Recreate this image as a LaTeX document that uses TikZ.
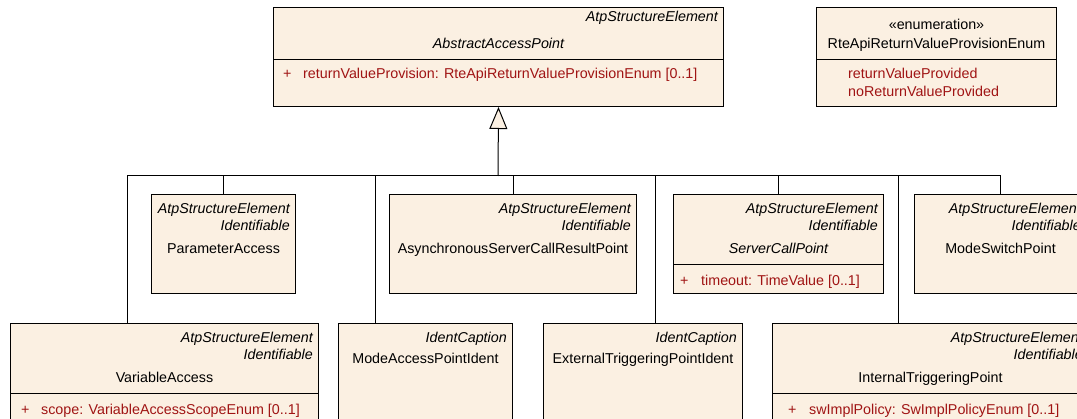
\documentclass[tikz,border=0pt]{standalone}
\usepackage{fontspec}
\setmainfont{Liberation Sans}
\usetikzlibrary{arrows.meta}
\definecolor{umlfill}{RGB}{251,240,226}
\definecolor{umlred}{RGB}{160,20,20}

\begin{document}
\begin{tikzpicture}[x=1pt,y=-1pt,
  every node/.style={font=\fontsize{14.3}{17}\selectfont},
  umlbox/.style={draw,fill=umlfill,line width=1pt,anchor=north west,inner sep=0pt},
  stereo/.style={anchor=east,inner sep=0pt,text height=10.2pt,text depth=0pt,font=\fontsize{14.3}{17}\selectfont\itshape},
  cname/.style={inner sep=0pt,text height=10.2pt,text depth=0pt},
  aname/.style={cname,font=\fontsize{14.3}{17}\selectfont\itshape},
  attr/.style={anchor=west,inner sep=0pt,text height=10.2pt,text depth=0pt,text=umlred},
  sepline/.style={line width=1pt},
  gen/.style={line width=1pt}
]
\useasboundingbox (0,0) rectangle (1077,419);
\clip (0,0) rectangle (1077,419);

% classes
\node[umlbox,minimum width=450pt,minimum height=99pt] (aap) at (273,7) {};
\node[umlbox,minimum width=240pt,minimum height=99pt] (rvpe) at (816,7) {};
\node[umlbox,minimum width=144pt,minimum height=99pt] (pa) at (151,194) {};
\node[umlbox,minimum width=247pt,minimum height=99pt] (ascrp) at (389,194) {};
\node[umlbox,minimum width=210pt,minimum height=99pt] (scp) at (673,194) {};
\node[umlbox,minimum width=172pt,minimum height=99pt] (msp) at (914,194) {};
\node[umlbox,minimum width=308pt,minimum height=110pt] (va) at (10,323) {};
\node[umlbox,minimum width=174pt,minimum height=110pt] (mapi) at (338,323) {};
\node[umlbox,minimum width=199pt,minimum height=110pt] (etpi) at (543,323) {};
\node[umlbox,minimum width=316pt,minimum height=110pt] (itp) at (772,323) {};

% AbstractAccessPoint
\node[stereo] (aap-st) at ([xshift=-6pt,yshift=-9pt]aap.north east) {AtpStructureElement};
\node[aname] (aap-name) at ([yshift=-36pt]aap.north) {AbstractAccessPoint};
\draw[sepline] ([yshift=-53pt]aap.north west) -- ([yshift=-53pt]aap.north east);
\node[attr] (aap-attr) at ([xshift=10pt,yshift=-66pt]aap.north west) {\makebox[20pt][l]{+}returnValueProvision: RteApiReturnValueProvisionEnum [0..1]};

% RteApiReturnValueProvisionEnum
\node[cname] (rvpe-st) at ([yshift=-17pt]rvpe.north) {«enumeration»};
\node[cname] (rvpe-name) at ([yshift=-36pt]rvpe.north) {RteApiReturnValueProvisionEnum};
\draw[sepline] ([yshift=-53pt]rvpe.north west) -- ([yshift=-53pt]rvpe.north east);
\node[attr] (rvpe-l1) at ([xshift=32pt,yshift=-66pt]rvpe.north west) {returnValueProvided};
\node[attr] (rvpe-l2) at ([xshift=32pt,yshift=-84pt]rvpe.north west) {noReturnValueProvided};

% ParameterAccess
\node[stereo] (pa-st1) at ([xshift=-6pt,yshift=-14pt]pa.north east) {AtpStructureElement};
\node[stereo] (pa-st2) at ([xshift=-6pt,yshift=-31pt]pa.north east) {Identifiable};
\node[cname] (pa-name) at ([yshift=-54pt]pa.north) {ParameterAccess};

% AsynchronousServerCallResultPoint
\node[stereo] (ascrp-st1) at ([xshift=-6pt,yshift=-14pt]ascrp.north east) {AtpStructureElement};
\node[stereo] (ascrp-st2) at ([xshift=-6pt,yshift=-31pt]ascrp.north east) {Identifiable};
\node[cname] (ascrp-name) at ([yshift=-54pt]ascrp.north) {AsynchronousServerCallResultPoint};

% ServerCallPoint
\node[stereo] (scp-st1) at ([xshift=-6pt,yshift=-14pt]scp.north east) {AtpStructureElement};
\node[stereo] (scp-st2) at ([xshift=-6pt,yshift=-31pt]scp.north east) {Identifiable};
\node[aname] (scp-name) at ([yshift=-54pt]scp.north) {ServerCallPoint};
\draw[sepline] ([yshift=-71pt]scp.north west) -- ([yshift=-71pt]scp.north east);
\node[attr] (scp-attr) at ([xshift=7pt,yshift=-86pt]scp.north west) {\makebox[21pt][l]{+}timeout: TimeValue [0..1]};

% ModeSwitchPoint
\node[stereo] (msp-st1) at ([xshift=-6pt,yshift=-14pt]msp.north east) {AtpStructureElement};
\node[stereo] (msp-st2) at ([xshift=-6pt,yshift=-31pt]msp.north east) {Identifiable};
\node[cname] (msp-name) at ([yshift=-54pt]msp.north) {ModeSwitchPoint};

% VariableAccess
\node[stereo] (va-st1) at ([xshift=-6pt,yshift=-14pt]va.north east) {AtpStructureElement};
\node[stereo] (va-st2) at ([xshift=-6pt,yshift=-31pt]va.north east) {Identifiable};
\node[cname] (va-name) at ([yshift=-54pt]va.north) {VariableAccess};
\draw[sepline] ([yshift=-71pt]va.north west) -- ([yshift=-71pt]va.north east);
\node[attr] (va-attr) at ([xshift=11pt,yshift=-86pt]va.north west) {\makebox[20pt][l]{+}scope: VariableAccessScopeEnum [0..1]};

% ModeAccessPointIdent
\node[stereo] (mapi-st) at ([xshift=-6pt,yshift=-14pt]mapi.north east) {IdentCaption};
\node[cname] (mapi-name) at ([yshift=-35pt]mapi.north) {ModeAccessPointIdent};

% ExternalTriggeringPointIdent
\node[stereo] (etpi-st) at ([xshift=-6pt,yshift=-14pt]etpi.north east) {IdentCaption};
\node[cname] (etpi-name) at ([yshift=-35pt]etpi.north) {ExternalTriggeringPointIdent};

% InternalTriggeringPoint
\node[stereo] (itp-st1) at ([xshift=-6pt,yshift=-14pt]itp.north east) {AtpStructureElement};
\node[stereo] (itp-st2) at ([xshift=-6pt,yshift=-31pt]itp.north east) {Identifiable};
\node[cname] (itp-name) at ([yshift=-54pt]itp.north) {InternalTriggeringPoint};
\draw[sepline] ([yshift=-71pt]itp.north west) -- ([yshift=-71pt]itp.north east);
\node[attr] (itp-attr) at ([xshift=16pt,yshift=-86pt]itp.north west) {\makebox[21pt][l]{+}swImplPolicy: SwImplPolicyEnum [0..1]};

% generalization tree
\coordinate (bar) at (498,176);
\draw[gen] (pa.north) |- (bar);
\draw[gen] (ascrp.north) |- (bar);
\draw[gen] (scp.north) |- (bar);
\draw[gen] (msp.north) |- (bar);
\draw[gen] ([xshift=-37pt]va.north) |- (bar);
\draw[gen] ([xshift=-50pt]mapi.north) |- (bar);
\draw[gen] ([xshift=12.5pt]etpi.north) |- (bar);
\draw[gen] ([xshift=-32pt]itp.north) |- (bar);
\draw[gen,-{Triangle[length=22pt,width=18pt,fill=umlfill]}] (bar) -- (aap.south);
\end{tikzpicture}
\end{document}
